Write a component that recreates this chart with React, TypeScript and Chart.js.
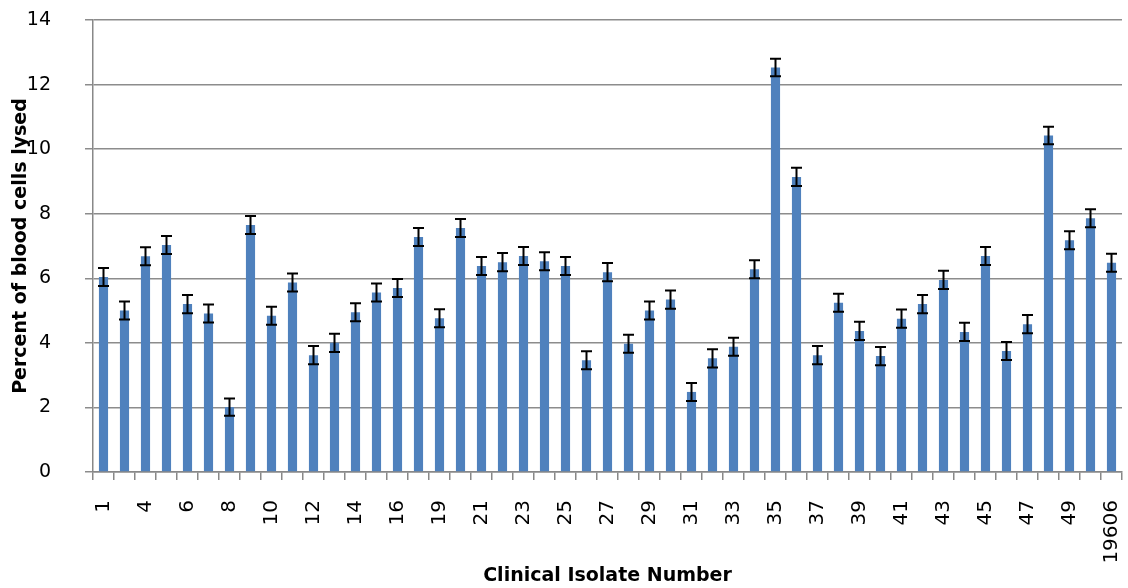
import React, { useEffect, useRef } from "react";
import { Chart, registerables } from "chart.js";

Chart.register(...registerables);

const categories = [
  "1", "3", "4", "5", "6", "7", "8", "9", "10", "11", "12", "13", "14", "15", "16", "18",
  "19", "20", "21", "22", "23", "24", "25", "26", "27", "28", "29", "30", "31", "32", "33", "34",
  "35", "36", "37", "38", "39", "40", "41", "42", "43", "44", "45", "46", "47", "48", "49", "50",
  "19606",
];

const lysedPercent = [
  6.04, 5.0, 6.68, 7.03, 5.2, 4.91, 2.01, 7.65, 4.84, 5.87, 3.62, 4.0, 4.95, 5.56, 5.7, 7.28,
  4.76, 7.56, 6.38, 6.5, 6.69, 6.53, 6.38, 3.46, 6.19, 3.97, 5.0, 5.34, 2.48, 3.52, 3.88, 6.28,
  12.53, 9.14, 3.62, 5.24, 4.37, 3.59, 4.75, 5.2, 5.95, 4.34, 6.69, 3.75, 4.58, 10.42, 7.18, 7.86,
  6.48,
];

const lysedError = [
  0.28, 0.28, 0.28, 0.28, 0.28, 0.28, 0.27, 0.28, 0.28, 0.28, 0.28, 0.28, 0.28, 0.28, 0.28, 0.28,
  0.28, 0.28, 0.28, 0.28, 0.28, 0.28, 0.28, 0.28, 0.28, 0.28, 0.28, 0.28, 0.28, 0.28, 0.28, 0.28,
  0.27, 0.28, 0.28, 0.28, 0.28, 0.28, 0.28, 0.28, 0.28, 0.28, 0.28, 0.28, 0.28, 0.27, 0.28, 0.28,
  0.28,
];

const yTicks = [0, 2, 4, 6, 8, 10, 12, 14];

const FONT = "'DejaVu Sans', sans-serif";

const errorBarPlugin = {
  id: "errorBars",
  afterDatasetsDraw(chart: any) {
    const meta = chart.getDatasetMeta(0);
    const yScale = chart.scales.y;
    const ctx = chart.ctx;
    ctx.save();
    ctx.strokeStyle = "#000";
    ctx.lineWidth = 2;
    meta.data.forEach((el: any, i: number) => {
      const v = lysedPercent[i];
      const e = lysedError[i];
      const x = el.x;
      const yt = yScale.getPixelForValue(v + e);
      const yb = yScale.getPixelForValue(v - e);
      const half = 5.5;
      ctx.beginPath();
      ctx.moveTo(x, yt);
      ctx.lineTo(x, yb);
      ctx.moveTo(x - half, yt);
      ctx.lineTo(x + half, yt);
      ctx.moveTo(x - half, yb);
      ctx.lineTo(x + half, yb);
      ctx.stroke();
    });
    ctx.restore();
  },
};

export default function App() {
  const ref = useRef<HTMLCanvasElement | null>(null);

  useEffect(() => {
    if (!ref.current) return;
    const chart = new Chart(ref.current, {
      type: "bar",
      data: {
        labels: categories,
        datasets: [
          {
            data: lysedPercent,
            backgroundColor: "#4F81BD",
            borderWidth: 0,
            barPercentage: 0.435,
            categoryPercentage: 1,
          },
        ],
      },
      options: {
        animation: false,
        responsive: false,
        maintainAspectRatio: false,
        devicePixelRatio: 1,
        layout: { padding: { left: 0, right: 6, top: 20, bottom: 0 } },
        plugins: {
          legend: { display: false },
          tooltip: { enabled: false },
        },
        scales: {
          x: {
            offset: true,
            grid: {
              display: true,
              offset: true,
              drawOnChartArea: false,
              drawTicks: true,
              tickLength: 8,
              color: "#888",
              lineWidth: 1.5,
            },
            border: { display: true, color: "#888", width: 1.5 },
            ticks: {
              autoSkip: false,
              minRotation: 90,
              maxRotation: 90,
              padding: 20,
              color: "#000",
              font: { family: FONT, size: 20 },
              callback: (_v: any, i: number) => (i % 2 === 0 ? categories[i] : ""),
            },
            title: {
              display: true,
              text: "Clinical Isolate Number",
              color: "#000",
              font: { family: FONT, size: 19, weight: "bold" },
              padding: { top: 0, bottom: 1 },
            },
            afterFit: (scale: any) => {
              scale.height = 116;
              scale.paddingLeft = 0;
              scale.paddingRight = 0;
              scale.paddingTop = 0;
              scale.paddingBottom = 0;
            },
          },
          y: {
            min: 0,
            max: 14,
            afterBuildTicks: (scale: any) => {
              scale.ticks = yTicks.map((v) => ({ value: v }));
            },
            grid: {
              display: true,
              drawTicks: true,
              tickLength: 8,
              color: "#8c8c8c",
              lineWidth: 1.5,
            },
            border: { display: true, color: "#888", width: 1.5 },
            ticks: {
              padding: 34,
              color: "#000",
              font: { family: FONT, size: 19 },
            },
            title: {
              display: true,
              text: "Percent of blood cells lysed",
              color: "#000",
              font: { family: FONT, size: 19, weight: "bold" },
              padding: { top: 10, bottom: 0 },
            },
            afterFit: (scale: any) => {
              scale.width = 93;
              scale.paddingLeft = 0;
              scale.paddingRight = 0;
              scale.paddingTop = 0;
              scale.paddingBottom = 0;
            },
          },
        },
      },
      plugins: [errorBarPlugin],
    });
    return () => chart.destroy();
  }, []);

  return (
    <div style={{ position: "fixed", left: 0, top: 0, width: 1128, height: 588, background: "#fff" }}>
      <canvas ref={ref} width={1128} height={588} style={{ display: "block", width: 1128, height: 588 }} />
    </div>
  );
}
